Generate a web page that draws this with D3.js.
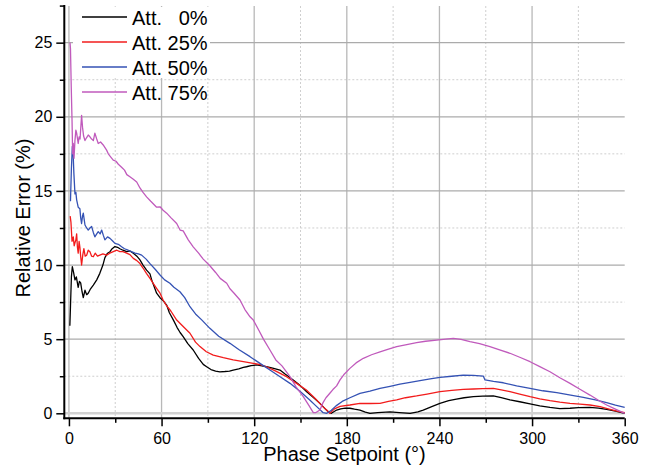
<!DOCTYPE html>
<html>
<head>
<meta charset="utf-8">
<script src="https://cdn.jsdelivr.net/npm/d3@7"></script>
<style>
  html, body { margin: 0; padding: 0; background: #fff; }
  svg { display: block; font-family: "Liberation Sans", Arial, sans-serif; }
</style>
</head>
<body>
<svg id="chart" width="652" height="471"></svg>
<script>
// ---------- data (phase setpoint in degrees, relative error in %) ----------
const seriesNames = ["Att.   0%", "Att. 25%", "Att. 50%", "Att. 75%"];
const seriesColors = ["#000000", "#f21c1c", "#3452b4", "#c05abc"];

const att0 = [[0.6,5.9],[1.0,7.2],[1.6,9.2],[2.2,9.9],[3.0,9.5],[3.9,9.0],[4.8,9.2],[6,8.5],[6.8,8.9],[7.6,8.8],[8.5,8.2],[9.3,7.8],[10.4,8.3],[11.5,8.0],[12.5,8.1],[14,8.4],[15.8,8.65],[18,9.0],[20,9.44],[22,10.0],[23.3,10.5],[25,10.8],[26.6,10.9],[28,11.1],[29.8,11.25],[31.5,11.2],[33,11.1],[35,11.0],[37.4,10.9],[39.5,10.95],[41.7,10.8],[44,10.6],[46,10.35],[48,10.0],[50.3,9.66],[52.5,9.4],[53.6,9.0],[55,8.6],[56.8,8.1],[59,7.8],[61,7.6],[63.3,7.3],[65,6.8],[67.6,6.3],[70,5.8],[72,5.45],[74,5.17],[77,4.7],[80.5,4.27],[84,3.7],[87,3.3],[89.2,3.14],[92,2.95],[95,2.85],[97.8,2.8],[101,2.82],[104,2.85],[106.4,2.92],[110,3.0],[113,3.1],[115,3.14],[118,3.22],[121.6,3.26],[125,3.2],[128,3.14],[132,3.05],[136.7,2.92],[140,2.65],[145.3,2.25],[150,1.85],[154,1.46],[158,1.1],[162.6,0.67],[166,0.3],[168,0.1],[170,0.0],[173.4,0.22],[176,0.3],[179,0.35],[182,0.34],[185,0.28],[188.5,0.22],[192,0.08],[195,0.0],[200,0.05],[208,0.09],[214,0.05],[221,0.0],[226,0.1],[229.5,0.22],[235,0.45],[240.3,0.67],[246,0.85],[251,0.96],[256,1.05],[262,1.12],[268,1.16],[274.9,1.17],[280,1.05],[285.7,0.9],[292,0.78],[298.7,0.63],[305,0.5],[311.6,0.4],[318,0.32],[324.6,0.34],[330,0.38],[337.5,0.4],[343,0.35],[348.3,0.27],[354,0.15],[360,0.0]];

const att25 = [[0.8,13.3],[1.3,12.9],[2.0,11.6],[2.8,11.9],[3.4,11.3],[3.9,11.5],[4.5,11.7],[5,12.1],[5.5,11.2],[6,10.8],[6.6,11.6],[7.1,11.2],[7.6,10.6],[8.2,10.0],[9,10.7],[9.7,11.1],[10.5,10.6],[11.5,10.67],[12.5,11.0],[13.6,10.9],[14.7,10.6],[15.8,10.56],[17,10.8],[18.5,10.6],[20,10.67],[22,10.75],[24.4,10.67],[26.5,10.8],[28.7,10.9],[31,11.0],[33,10.9],[35,10.9],[37.4,10.8],[39.5,10.7],[41.7,10.45],[44,10.3],[46,10.1],[48,9.8],[50.2,9.44],[52.5,9.1],[54.6,8.77],[57,8.4],[59,8.1],[61,7.64],[63,7.3],[66,6.9],[69.8,6.29],[74,5.85],[78.4,5.4],[82,4.8],[84.9,4.5],[89,4.15],[93.5,3.93],[100,3.75],[106.4,3.6],[113,3.48],[119.4,3.37],[124,3.28],[128,3.14],[134,2.85],[141,2.47],[147,2.05],[153.8,1.57],[160,0.95],[164,0.5],[166.9,0.22],[169,0.0],[172,0.3],[175.6,0.47],[182,0.56],[188.5,0.67],[195,0.66],[201.5,0.67],[207,0.8],[212.3,0.9],[218,1.05],[225.2,1.17],[232,1.3],[240.3,1.46],[248,1.55],[255.4,1.62],[262,1.64],[268,1.66],[274.9,1.68],[280,1.58],[285.7,1.46],[292,1.3],[298.7,1.12],[305,0.98],[311.6,0.85],[318,0.75],[324.6,0.67],[331,0.62],[337.5,0.56],[344,0.45],[350.5,0.27],[355,0.15],[360,0.04]];

const att50 = [[1.0,14.3],[1.6,16.5],[2.2,18.0],[2.7,17.6],[3.2,16.2],[3.9,14.8],[4.5,14.9],[5,14.4],[6,13.9],[7.1,13.8],[7.6,13.2],[8.2,12.8],[8.8,13.3],[9.3,13.5],[10.4,12.7],[11.5,12.5],[12.5,12.36],[13.6,12.5],[14.7,12.6],[15.8,12.2],[16.8,11.9],[18,12.1],[19,12.25],[20.2,12.1],[21.2,12.36],[22.3,12.0],[23.3,11.7],[25,11.9],[26.6,11.8],[28.5,11.6],[29.8,11.46],[32,11.4],[34.1,11.23],[36,11.1],[38.4,11.0],[40.5,10.9],[42.8,10.8],[45,10.75],[47.1,10.67],[50,10.4],[52.5,10.1],[56,9.7],[59,9.33],[62,9.0],[65.4,8.77],[68,8.5],[71.9,8.2],[75,7.8],[78.4,7.19],[82,6.7],[86,6.3],[91.3,5.73],[97,5.2],[104.3,4.72],[110,4.3],[117.3,3.82],[124,3.35],[130.2,2.92],[137,2.45],[143.2,2.02],[150,1.45],[156,0.9],[160,0.5],[164.7,0.04],[167,0.0],[170,0.2],[173,0.5],[177,0.8],[182,1.05],[188.5,1.35],[195,1.5],[201.5,1.68],[208,1.82],[214.4,1.97],[221,2.08],[227.4,2.2],[234,2.32],[240.3,2.43],[248,2.5],[255.4,2.58],[262,2.56],[268.4,2.51],[269.5,2.25],[275,2.15],[281.4,2.06],[290,1.85],[298.7,1.68],[307,1.52],[316,1.39],[325,1.22],[333.2,1.08],[341,0.9],[348.3,0.72],[354,0.55],[360,0.4]];

const att75 = [[0.7,25.0],[1.0,24.6],[1.5,22.0],[2.0,19.8],[2.4,17.5],[2.8,18.2],[3.3,17.2],[3.9,18.4],[4.5,19.1],[5,18.9],[6,18.2],[6.6,18.65],[7.2,18.5],[8.2,20.1],[8.8,19.3],[9.5,18.7],[10.4,18.4],[11.5,18.6],[12.5,18.77],[13.6,18.65],[14.7,18.5],[15.8,18.4],[16.8,18.9],[18,18.5],[19,18.2],[20.5,18.3],[22.2,18.1],[24.4,17.75],[25.5,17.5],[27,17.3],[28.7,17.08],[30.5,17.0],[32,16.8],[34.1,16.6],[36,16.4],[37.5,16.1],[39.5,15.95],[41.5,15.8],[43.9,15.6],[46,15.2],[48,14.9],[50.3,14.6],[53,14.3],[56.8,13.9],[59,13.93],[61,13.7],[63.3,13.5],[66,13.2],[69.8,12.8],[72,12.36],[74,12.3],[77.3,11.7],[80.5,11.23],[84,10.8],[87,10.4],[91.3,9.95],[95,9.5],[98,9.1],[102.2,8.77],[104.3,8.4],[107,8.1],[110.8,7.64],[114,7.0],[117.3,6.51],[119.4,6.29],[123,5.6],[126,5.0],[130.2,4.27],[134,3.6],[138,3.2],[143.2,2.47],[147,1.8],[151.8,1.12],[155,0.6],[158.3,0.04],[160,0.05],[162.6,0.22],[164.5,0.7],[166.5,1.05],[169,1.35],[171,1.6],[173.4,1.85],[175.6,2.25],[178,2.6],[182,3.03],[186,3.4],[190.7,3.71],[196,3.95],[201.5,4.15],[207,4.33],[212.3,4.49],[218,4.62],[225.2,4.76],[231,4.86],[238.2,4.94],[244,5.0],[249,5.06],[254,4.98],[259.8,4.83],[266,4.7],[272.7,4.49],[279,4.28],[285.7,4.05],[292,3.78],[298.7,3.48],[305,3.15],[311.6,2.8],[318,2.4],[324.6,2.02],[331,1.62],[337.5,1.23],[343,0.88],[348.3,0.56],[354,0.28],[360,0.0]];

const seriesData = [att0, att25, att50, att75];

const xMajorTicks = [0, 60, 120, 180, 240, 300, 360];
const xMinorTicks = [30, 90, 150, 210, 270, 330];
const yMajorTicks = [0, 5, 10, 15, 20, 25];
const yMinorTicks = [2.5, 7.5, 12.5, 17.5, 22.5, 27.5];

const xTitle = "Phase Setpoint (°)";
const yTitle = "Relative Error (%)";

// ---------- layout ----------
const plotL = 64.3, plotR = 624.7, plotT = 5, plotB = 418.3;
const x = d3.scaleLinear().domain([-3, 360]).range([plotL, plotR]);
const y = d3.scaleLinear().domain([-0.337, 27.54]).range([plotB, plotT]);

const svg = d3.select("#chart");

// grid
const grid = svg.append("g");
grid.selectAll("line.vmin").data(xMinorTicks).join("line")
  .attr("x1", d => x(d)).attr("x2", d => x(d)).attr("y1", plotT + 1).attr("y2", plotB)
  .attr("stroke", "#cfcfcf").attr("stroke-width", 1).attr("stroke-dasharray", "2,2");
grid.selectAll("line.hmin").data(yMinorTicks.filter(d => d < 27)).join("line")
  .attr("x1", plotL).attr("x2", plotR).attr("y1", d => y(d)).attr("y2", d => y(d))
  .attr("stroke", "#cfcfcf").attr("stroke-width", 1).attr("stroke-dasharray", "2,2");
grid.selectAll("line.vmaj").data(xMajorTicks.filter(d => d < 360)).join("line")
  .attr("x1", d => x(d)).attr("x2", d => x(d)).attr("y1", plotT + 1).attr("y2", plotB)
  .attr("stroke", "#b8b8b8").attr("stroke-width", 1.3);
grid.selectAll("line.hmaj").data(yMajorTicks.filter(d => d > 0)).join("line")
  .attr("x1", plotL).attr("x2", plotR).attr("y1", d => y(d)).attr("y2", d => y(d))
  .attr("stroke", "#ababab").attr("stroke-width", 1.2);
grid.append("line")
  .attr("x1", plotL).attr("x2", plotR).attr("y1", y(0)).attr("y2", y(0))
  .attr("stroke", "#d2d2d2").attr("stroke-width", 2.5);

// legend background
svg.append("rect").attr("x", 73).attr("y", 7).attr("width", 137).attr("height", 71).attr("fill", "#fff");

// lines
const line = d3.line().x(d => x(d[0])).y(d => y(d[1]));
seriesData.forEach((data, i) => {
  svg.append("path").datum(data)
    .attr("fill", "none").attr("stroke", seriesColors[i])
    .attr("stroke-width", 1.3).attr("stroke-linejoin", "round")
    .attr("d", line);
});

// axes
const fontFam = '"Liberation Sans", Arial, sans-serif';
svg.append("g").attr("transform", `translate(0,${plotB})`)
  .call(d3.axisBottom(x).tickValues(xMajorTicks).tickSize(8).tickPadding(6).tickFormat(d3.format("d")));
svg.append("g").attr("transform", `translate(0,${plotB})`)
  .call(d3.axisBottom(x).tickValues(xMinorTicks).tickSize(4.5).tickFormat(""));
svg.append("g").attr("transform", `translate(${plotL},0)`)
  .call(d3.axisLeft(y).tickValues(yMajorTicks).tickSize(8).tickPadding(4).tickFormat(d3.format("d")));
svg.append("g").attr("transform", `translate(${plotL},0)`)
  .call(d3.axisLeft(y).tickValues(yMinorTicks).tickSize(4.5).tickFormat(""));

svg.selectAll(".domain").remove();
svg.selectAll(".tick line").attr("stroke", "#000").attr("stroke-width", 1.5);
svg.selectAll(".tick text").attr("font-size", 16).attr("font-family", fontFam).attr("fill", "#000");

svg.append("line").attr("x1", plotL).attr("x2", plotL).attr("y1", plotT).attr("y2", plotB + 1)
  .attr("stroke", "#000").attr("stroke-width", 2);
svg.append("line").attr("x1", plotL - 1).attr("x2", plotR).attr("y1", plotB).attr("y2", plotB)
  .attr("stroke", "#000").attr("stroke-width", 2);

// axis titles
svg.append("text").attr("x", (plotL + plotR) / 2).attr("y", 461)
  .attr("text-anchor", "middle").attr("font-size", 20).attr("font-family", fontFam)
  .text(xTitle);
svg.append("text").attr("transform", "translate(30,218) rotate(-90)")
  .attr("text-anchor", "middle").attr("font-size", 20).attr("font-family", fontFam)
  .text(yTitle);

// legend
const legendY = [17, 42, 67, 92];
seriesNames.forEach((name, i) => {
  svg.append("line").attr("x1", 82).attr("x2", 127).attr("y1", legendY[i]).attr("y2", legendY[i])
    .attr("stroke", seriesColors[i]).attr("stroke-width", 1.3);
  svg.append("text").attr("x", 132).attr("y", legendY[i] + 7.5)
    .attr("font-size", 20).attr("font-family", fontFam)
    .style("white-space", "pre").attr("xml:space", "preserve")
    .text(name);
});
</script>
</body>
</html>
